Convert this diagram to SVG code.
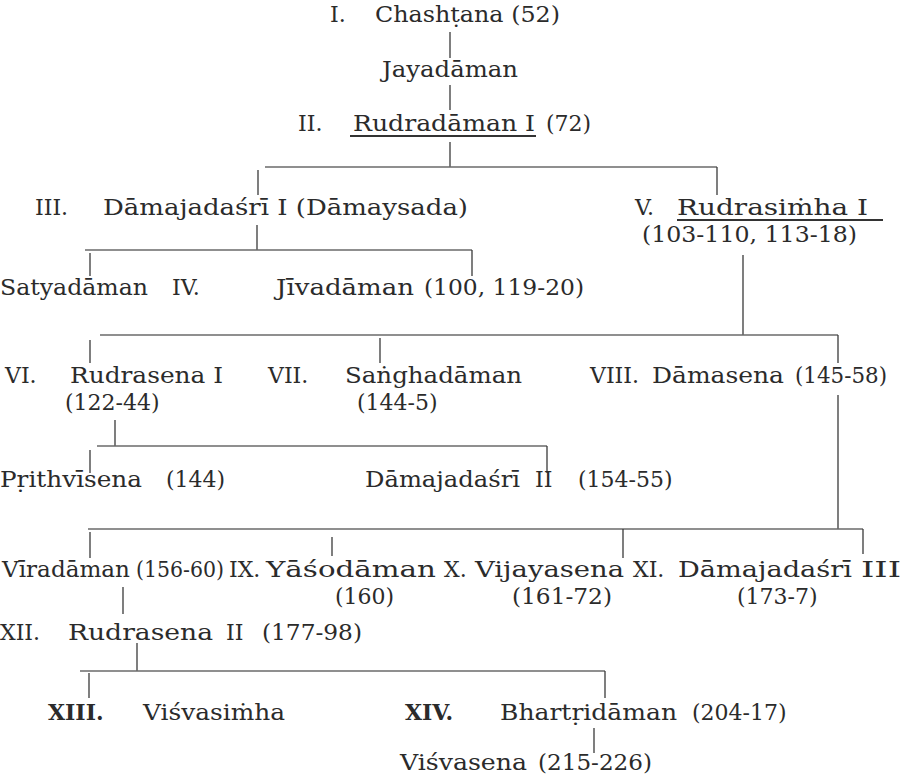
<svg xmlns="http://www.w3.org/2000/svg" width="911" height="782" viewBox="0 0 911 782">
<style>
text{font-family:"DejaVu Serif","Liberation Serif",serif;font-size:22px;fill:#2b2b2b}
.b{font-weight:bold}
.c line{stroke:#3a3a3a;stroke-width:1.3}
.c line.h{stroke:#6a6a6a;stroke-width:1.6}
.u{stroke:#333;stroke-width:2}
</style>
<rect width="911" height="782" fill="#fff"/>
<g class="c" id="connectors">
<line x1="450" y1="32" x2="450" y2="58"/>
<line x1="450" y1="85" x2="450" y2="110"/>
<line x1="450" y1="142" x2="450" y2="167"/>
<line class="h" x1="265" y1="167" x2="717" y2="167"/>
<line x1="258" y1="170" x2="258" y2="195"/>
<line x1="717" y1="167" x2="717" y2="195"/>
<line x1="257" y1="225" x2="257" y2="250"/>
<line class="h" x1="85" y1="250" x2="472" y2="250"/>
<line x1="90" y1="253" x2="90" y2="276"/>
<line x1="472" y1="250" x2="472" y2="276"/>
<line x1="743" y1="255" x2="743" y2="335"/>
<line class="h" x1="100" y1="335" x2="838" y2="335"/>
<line x1="90" y1="340" x2="90" y2="363"/>
<line x1="380" y1="338" x2="380" y2="363"/>
<line x1="838" y1="335" x2="838" y2="363"/>
<line x1="115" y1="420" x2="115" y2="446"/>
<line class="h" x1="97" y1="446" x2="547" y2="446"/>
<line x1="90" y1="450" x2="90" y2="473"/>
<line x1="547" y1="446" x2="547" y2="473"/>
<line x1="838" y1="395" x2="838" y2="529"/>
<line class="h" x1="88" y1="529" x2="863" y2="529"/>
<line x1="90" y1="532" x2="90" y2="558"/>
<line x1="332" y1="537" x2="332" y2="556"/>
<line x1="623" y1="529" x2="623" y2="558"/>
<line x1="863" y1="529" x2="863" y2="554"/>
<line x1="123" y1="587" x2="123" y2="614"/>
<line x1="137" y1="643" x2="137" y2="671"/>
<line class="h" x1="80" y1="671" x2="605" y2="671"/>
<line x1="89" y1="673" x2="89" y2="698"/>
<line x1="605" y1="671" x2="605" y2="698"/>
<line x1="594" y1="728" x2="594" y2="753"/>
</g>
<g id="n1"><text x="330" y="22">I.</text><text x="375" y="22" textLength="185" lengthAdjust="spacingAndGlyphs">Chashṭana (52)</text></g>
<g id="n-jayadaman"><text x="382" y="77" textLength="136" lengthAdjust="spacingAndGlyphs">Jayadāman</text></g>
<g id="n2"><text x="298" y="131">II.</text><text x="353" y="131" textLength="182" lengthAdjust="spacingAndGlyphs">Rudradāman I</text><text x="546" y="131">(72)</text><line class="u" x1="350" y1="136" x2="536" y2="136"/></g>
<g id="n3"><text x="35" y="215">III.</text><text x="103" y="215" textLength="365" lengthAdjust="spacingAndGlyphs">Dāmajadaśrī I (Dāmaysada)</text></g>
<g id="n5"><text x="635" y="215">V.</text><text x="677" y="215" textLength="191" lengthAdjust="spacingAndGlyphs">Rudrasiṁha I</text><line class="u" x1="677" y1="220" x2="883" y2="220"/><text x="642" y="242" textLength="215" lengthAdjust="spacingAndGlyphs">(103-110, 113-18)</text></g>
<g id="n-satyadaman"><text x="0" y="295" textLength="148" lengthAdjust="spacingAndGlyphs">Satyadāman</text></g>
<g id="n4"><text x="172" y="295">IV.</text><text x="276" y="295" textLength="138" lengthAdjust="spacingAndGlyphs">Jīvadāman</text><text x="424" y="295" textLength="160" lengthAdjust="spacingAndGlyphs">(100, 119-20)</text></g>
<g id="n6"><text x="5" y="383">VI.</text><text x="70" y="383" textLength="153" lengthAdjust="spacingAndGlyphs">Rudrasena I</text><text x="65" y="410">(122-44)</text></g>
<g id="n7"><text x="268" y="383">VII.</text><text x="345" y="383" textLength="177" lengthAdjust="spacingAndGlyphs">Saṅghadāman</text><text x="357" y="410">(144-5)</text></g>
<g id="n8"><text x="590" y="383">VIII.</text><text x="652" y="383" textLength="132" lengthAdjust="spacingAndGlyphs">Dāmasena</text><text x="795" y="383" textLength="92" lengthAdjust="spacingAndGlyphs">(145-58)</text></g>
<g id="n-prithvisena"><text x="0" y="487" textLength="142" lengthAdjust="spacingAndGlyphs">Pṛithvīsena</text><text x="166" y="487">(144)</text></g>
<g id="n-damajadasri2"><text x="365" y="487" textLength="155" lengthAdjust="spacingAndGlyphs">Dāmajadaśrī</text><text x="535" y="487">II</text><text x="578" y="487">(154-55)</text></g>
<g id="n-viradaman"><text x="2" y="577" textLength="128" lengthAdjust="spacingAndGlyphs">Vīradāman</text><text x="136" y="577" textLength="88" lengthAdjust="spacingAndGlyphs">(156-60)</text></g>
<g id="n9"><text x="229" y="577">IX.</text><text x="266" y="577" textLength="170" lengthAdjust="spacingAndGlyphs">Yāśodāman</text><text x="335" y="604">(160)</text></g>
<g id="n10"><text x="444" y="577">X.</text><text x="475" y="577" textLength="149" lengthAdjust="spacingAndGlyphs">Vijayasena</text><text x="512" y="604" textLength="100" lengthAdjust="spacingAndGlyphs">(161-72)</text></g>
<g id="n11"><text x="633" y="577">XI.</text><text x="678" y="577" textLength="174" lengthAdjust="spacingAndGlyphs">Dāmajadaśrī</text><text x="861" y="577" textLength="40" lengthAdjust="spacingAndGlyphs">III</text><text x="737" y="604">(173-7)</text></g>
<g id="n12"><text x="0" y="640">XII.</text><text x="68" y="640" textLength="145" lengthAdjust="spacingAndGlyphs">Rudrasena</text><text x="226" y="640">II</text><text x="262" y="640" textLength="100" lengthAdjust="spacingAndGlyphs">(177-98)</text></g>
<g id="n13"><text class="b" x="48" y="720">XIII.</text><text x="143" y="720" textLength="142" lengthAdjust="spacingAndGlyphs">Viśvasiṁha</text></g>
<g id="n14"><text class="b" x="405" y="720">XIV.</text><text x="500" y="720" textLength="177" lengthAdjust="spacingAndGlyphs">Bhartṛidāman</text><text x="692" y="720">(204-17)</text></g>
<g id="n-visvasena"><text x="400" y="770" textLength="127" lengthAdjust="spacingAndGlyphs">Viśvasena</text><text x="538" y="770" textLength="114" lengthAdjust="spacingAndGlyphs">(215-226)</text></g>
</svg>
